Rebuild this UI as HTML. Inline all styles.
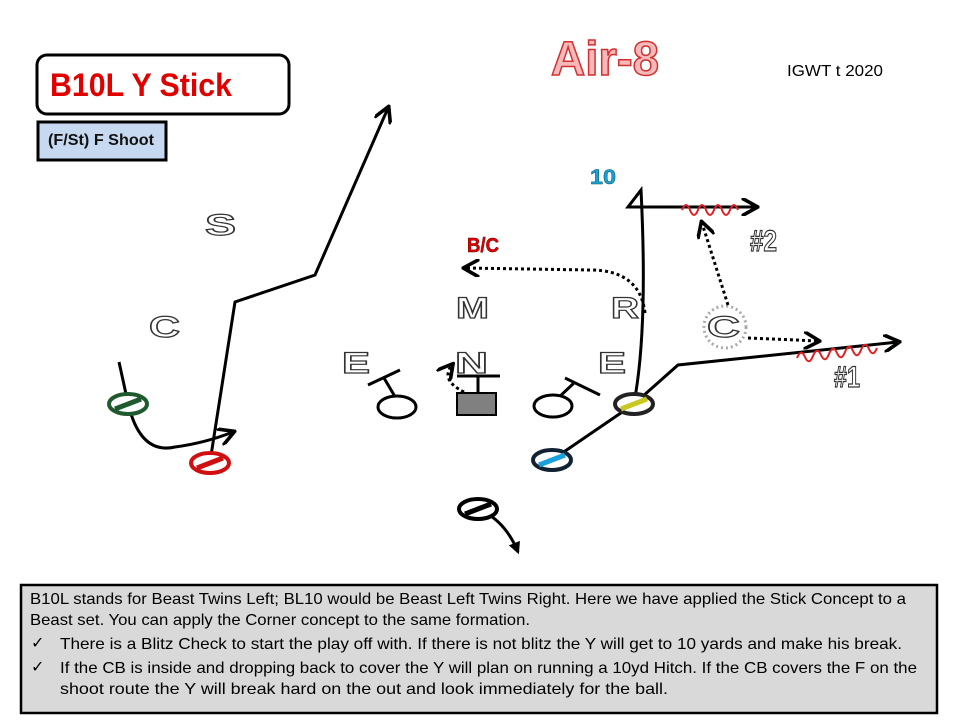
<!DOCTYPE html>
<html><head><meta charset="utf-8"><style>
html,body{margin:0;padding:0;background:#fff;}
svg{display:block;}
.ol{font-family:"Liberation Sans",sans-serif;font-weight:bold;fill:#fff;stroke:#333;stroke-width:1.2;font-size:30px;}
.bt{font-family:"Liberation Sans",sans-serif;font-size:16px;fill:#000;}
</style></head><body>
<svg width="960" height="720" viewBox="0 0 960 720" xmlns="http://www.w3.org/2000/svg">
<defs>
<marker id="ah" viewBox="0 0 10 10" refX="8" refY="5" markerWidth="6" markerHeight="6" orient="auto"><path d="M0,0 L9,5 L0,10" fill="none" stroke="#000" stroke-width="2"/></marker>
<marker id="ahs" viewBox="0 0 10 10" refX="8" refY="5" markerWidth="4" markerHeight="4" orient="auto"><path d="M0,0 L10,5 L0,10 z" fill="#000"/></marker>
</defs>
<rect x="37" y="55" width="252" height="59" rx="10" fill="#fff" stroke="#000" stroke-width="3"/>
<text x="50" y="96" font-family="Liberation Sans,sans-serif" font-weight="bold" font-size="32" fill="#e00000" textLength="182" lengthAdjust="spacingAndGlyphs">B10L Y Stick</text>
<rect x="38" y="122" width="128" height="38" fill="#c6d9f1" stroke="#000" stroke-width="3"/>
<text x="48" y="145" font-family="Liberation Sans,sans-serif" font-weight="bold" font-size="16" fill="#111" textLength="106" lengthAdjust="spacingAndGlyphs">(F/St) F Shoot</text>
<text x="551" y="75" font-family="Liberation Sans,sans-serif" font-weight="bold" font-size="48" fill="#f6b8b8" stroke="#d03030" stroke-width="1.5" textLength="108" lengthAdjust="spacingAndGlyphs">Air-8</text>
<text x="787" y="76" font-family="Liberation Sans,sans-serif" font-size="16" fill="#000" textLength="96" lengthAdjust="spacingAndGlyphs">IGWT t 2020</text>

<text class="ol" x="205" y="235" textLength="31" lengthAdjust="spacingAndGlyphs">S</text>
<text class="ol" x="149" y="337" textLength="31" lengthAdjust="spacingAndGlyphs">C</text>
<text class="ol" x="456" y="318" textLength="33" lengthAdjust="spacingAndGlyphs">M</text>
<text class="ol" x="611" y="318" textLength="28" lengthAdjust="spacingAndGlyphs">R</text>
<text class="ol" x="342" y="373" textLength="28" lengthAdjust="spacingAndGlyphs">E</text>
<text class="ol" x="455" y="373" textLength="33" lengthAdjust="spacingAndGlyphs">N</text>
<text class="ol" x="598" y="373" textLength="28" lengthAdjust="spacingAndGlyphs">E</text>
<text class="ol" x="707" y="337" textLength="33" lengthAdjust="spacingAndGlyphs">C</text>
<text class="ol" x="750" y="251" font-size="22" textLength="27" lengthAdjust="spacingAndGlyphs">#2</text>
<text class="ol" x="834" y="387" font-size="22" textLength="26" lengthAdjust="spacingAndGlyphs">#1</text>
<text x="467" y="252" font-family="Liberation Sans,sans-serif" font-weight="bold" font-size="20" fill="#e00000" stroke="#600" stroke-width="0.5" textLength="32" lengthAdjust="spacingAndGlyphs">B/C</text>
<text x="590" y="184" font-family="Liberation Sans,sans-serif" font-weight="bold" font-size="21" fill="#1aa0dc" stroke="#055" stroke-width="0.5" textLength="26" lengthAdjust="spacingAndGlyphs">10</text>
<circle cx="725" cy="327" r="21" fill="none" stroke="#aaa" stroke-width="3" stroke-dasharray="2,3"/>

<g fill="none" stroke="#000" stroke-width="3">
<polyline points="210,462 235,302 315,275 388,108" marker-end="url(#ah)"/>
<path d="M119,362 L128,403 Q140,455 175,447 Q205,443 233,432" marker-end="url(#ah)"/>
<path d="M634,403 Q648,330 641,190 L628,207 L756,207" marker-end="url(#ah)"/>
<polyline points="634,404 678,365 898,342" marker-end="url(#ah)"/>
<line x1="552" y1="460" x2="634" y2="404"/>
<path d="M478,509 Q505,520 518,552" marker-end="url(#ahs)"/>
<line x1="368" y1="385" x2="400" y2="370"/><line x1="384" y1="378" x2="397" y2="400"/>
<line x1="457" y1="376" x2="500" y2="376"/><line x1="478" y1="376" x2="478" y2="392"/>
<line x1="565" y1="378" x2="600" y2="395"/><line x1="575" y1="382" x2="556" y2="400"/>
</g>
<g fill="none" stroke="#000" stroke-width="3" stroke-dasharray="3,3">
<path d="M645,313 Q640,270 590,270 L465,268" marker-end="url(#ah)"/>
<line x1="728" y1="305" x2="702" y2="223" marker-end="url(#ah)"/>
<line x1="748" y1="338" x2="818" y2="341" marker-end="url(#ah)"/>
<path d="M464,392 Q440,380 452,365" marker-end="url(#ah)"/>
</g>
<path d="M682,210 q4,-10 8,0 t8,0 t8,0 t8,0 t8,0 t8,0 t8,0" fill="none" stroke="#e02020" stroke-width="2"/>
<path d="M797,358 q4,-10 8,-1 t8,-1 t8,-1 t8,-1 t8,-1 t8,-1 t8,-1 t8,-1 t8,-1 t8,-1" fill="none" stroke="#e02020" stroke-width="2"/>

<g stroke-width="3">
<ellipse cx="397" cy="407" rx="19" ry="11" fill="#fff" stroke="#000"/>
<rect x="457" y="393" width="39" height="22" fill="#808080" stroke="#000" stroke-width="2"/>
<ellipse cx="553" cy="406" rx="19" ry="11" fill="#fff" stroke="#000"/>
<ellipse cx="128" cy="404" rx="19" ry="10" fill="#fff" stroke="#1e5a2e" stroke-width="4"/>
<line x1="115" y1="409" x2="141" y2="399" stroke="#1e5a2e" stroke-width="5"/>
<ellipse cx="210" cy="463" rx="19" ry="10" fill="#fff" stroke="#d01010" stroke-width="4"/>
<line x1="197" y1="468" x2="223" y2="458" stroke="#d01010" stroke-width="5"/>
<ellipse cx="634" cy="404" rx="19" ry="10" fill="#fff" stroke="#222" stroke-width="4"/>
<line x1="621" y1="409" x2="647" y2="399" stroke="#c8c820" stroke-width="5"/>
<ellipse cx="552" cy="460" rx="19" ry="10" fill="#fff" stroke="#123" stroke-width="4"/>
<line x1="539" y1="465" x2="565" y2="455" stroke="#1aa0dc" stroke-width="5"/>
<ellipse cx="478" cy="509" rx="19" ry="10" fill="#fff" stroke="#000" stroke-width="4"/>
<line x1="465" y1="514" x2="491" y2="504" stroke="#000" stroke-width="5"/>
</g>

<rect x="21" y="585" width="916" height="128" fill="#d9d9d9" stroke="#000" stroke-width="2.5"/>
<text class="bt" x="30" y="604" textLength="876" lengthAdjust="spacingAndGlyphs">B10L stands for Beast Twins Left; BL10 would be Beast Left Twins Right.  Here we have applied the Stick Concept to a</text>
<text class="bt" x="30" y="625" textLength="500" lengthAdjust="spacingAndGlyphs">Beast set. You can apply the Corner concept to the same formation.</text>
<text class="bt" x="31" y="648">✓</text>
<text class="bt" x="60" y="649" textLength="842" lengthAdjust="spacingAndGlyphs">There is a Blitz Check to start the play off with. If there is not blitz the Y will get to 10 yards and make his break.</text>
<text class="bt" x="31" y="672">✓</text>
<text class="bt" x="60" y="673" textLength="857" lengthAdjust="spacingAndGlyphs">If the CB is inside and dropping back to cover the Y will plan on running a 10yd Hitch. If the CB covers the F on the</text>
<text class="bt" x="60" y="694" textLength="608" lengthAdjust="spacingAndGlyphs">shoot route the Y will break hard on the out and look immediately for the ball.</text>
</svg>
</body></html>
